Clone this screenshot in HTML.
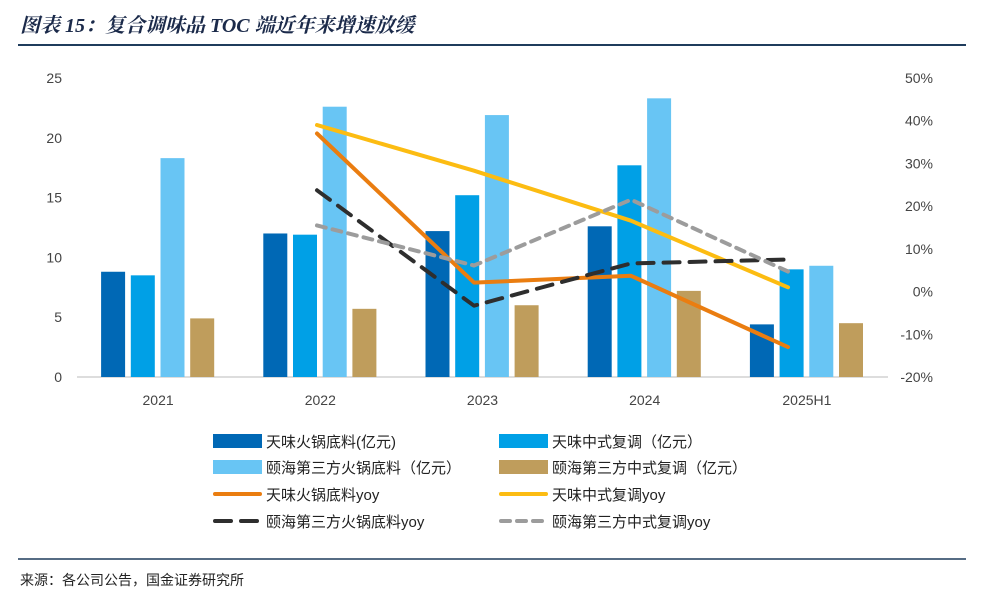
<!DOCTYPE html>
<html><head><meta charset="utf-8">
<style>
body{margin:0;background:#fff;width:982px;height:602px;overflow:hidden;font-family:"Liberation Sans","Noto Sans CJK SC",sans-serif;}
</style></head><body>
<svg id="chart" width="982" height="602" xmlns="http://www.w3.org/2000/svg">
<text x="20" y="32" font-family="'Liberation Serif','Noto Serif CJK SC',serif" font-size="20" font-weight="bold" font-style="italic" fill="#1b2a4a">图表 15：复合调味品 TOC 端近年来增速放缓</text>
<line x1="18" y1="45" x2="966" y2="45" stroke="#1f3c5c" stroke-width="2"/>
<line x1="18" y1="559" x2="966" y2="559" stroke="#1f3c5c" stroke-width="1.5"/>
<text x="20" y="585" font-size="14" fill="#222" font-family="'Liberation Sans','Noto Sans CJK SC',sans-serif">来源：各公司公告，国金证券研究所</text>
<g id="plot"></g>
<g id="legend"></g>
</svg>
<script>
const categories=["2021","2022","2023","2024","2025H1"];
const tianweiHotpot=[8.8,12.0,12.2,12.6,4.4];
const tianweiChinese=[8.5,11.9,15.2,17.7,9.0];
const yihaiHotpot=[18.3,22.6,21.9,23.3,9.3];
const yihaiChinese=[4.9,5.7,6.0,7.2,4.5];
const tianweiHotpotYoy=[null,37,2.1,3.7,-13];
const tianweiChineseYoy=[null,39,28.3,16.6,1];
const yihaiHotpotYoy=[null,23.7,-3.3,6.6,7.5];
const yihaiChineseYoy=[null,15.5,6.1,21.5,4.7];
const leftTicks=[0,5,10,15,20,25];
const rightTicks=[-20,-10,0,10,20,30,40,50];

const NS="http://www.w3.org/2000/svg";
const plot=document.getElementById('plot');
const legend=document.getElementById('legend');
function mk(tag,attrs,parent){const e=document.createElementNS(NS,tag);for(const k in attrs)e.setAttribute(k,attrs[k]);parent.appendChild(e);return e;}
const x0=77,x1=888,yTop=78,yBot=377;
const yL=v=>yBot-(v/25)*(yBot-yTop);
const yR=v=>yBot-((v+20)/70)*(yBot-yTop);
const bandW=(x1-x0)/categories.length;
const cx=i=>x0+bandW*(i+0.5);
const lx=i=>160+157*i;

leftTicks.forEach(t=>{const e=mk('text',{x:62,y:yL(t)+5,'text-anchor':'end','font-size':14,fill:'#444'},plot);e.textContent=t;

});
rightTicks.forEach(t=>{const e=mk('text',{x:933,y:yR(t)+5,'text-anchor':'end','font-size':14,fill:'#444'},plot);e.textContent=t+'%';

});
const ax=mk('line',{x1:x0,x2:x1,y1:yBot,y2:yBot,stroke:'#bbb','stroke-width':1},plot);



const series=[[tianweiHotpot,'#0068b5'],[tianweiChinese,'#00a0e6'],[yihaiHotpot,'#68c5f4'],[yihaiChinese,'#bf9d5c']];
const bw=24,step=29.7;
categories.forEach((c,i)=>{
 series.forEach((s,j)=>{
  const x=cx(i)-57+j*step;
  const r=mk('rect',{x:x,y:yL(s[0][i]),width:bw,height:yBot-yL(s[0][i]),fill:s[1]},plot);
  
  
 });
 const t=mk('text',{x:cx(i),y:405,'text-anchor':'middle','font-size':14,fill:'#444'},plot);t.textContent=c;
 
 
});
const lines=[[tianweiHotpotYoy,'#ea7d10',null],[tianweiChineseYoy,'#fcbc12',null],[yihaiHotpotYoy,'#2e2e2e','16 10'],[yihaiChineseYoy,'#9c9c9c','9 7']];
lines.forEach((l,j)=>{
 const pts=[];l[0].forEach((v,i)=>{if(v!==null)pts.push(lx(i).toFixed(1)+','+yR(v).toFixed(1));});
 const a={points:pts.join(' '),fill:'none',stroke:l[1],'stroke-width':4,'stroke-linecap':'round','stroke-linejoin':'round'};
 if(l[2])a['stroke-dasharray']=l[2];
 const p=mk('polyline',a,plot);
 
 
});

const items=[
 ['rect','#0068b5','天味火锅底料(亿元)',213,441],
 ['rect','#00a0e6','天味中式复调（亿元）',499,441],
 ['rect','#68c5f4','颐海第三方火锅底料（亿元）',213,467],
 ['rect','#bf9d5c','颐海第三方中式复调（亿元）',499,467],
 ['line','#ea7d10','天味火锅底料yoy',213,494,null],
 ['line','#fcbc12','天味中式复调yoy',499,494,null],
 ['line','#2e2e2e','颐海第三方火锅底料yoy',213,521,'16 10'],
 ['line','#9c9c9c','颐海第三方中式复调yoy',499,521,'9 7']];
items.forEach(it=>{
 let m;
 if(it[0]==='rect')m=mk('rect',{x:it[3],y:it[4]-7,width:49,height:14,fill:it[1]},legend);
 else{const a={x1:it[3]+2,x2:it[3]+47,y1:it[4],y2:it[4],stroke:it[1],'stroke-width':4,'stroke-linecap':'round'};if(it[5])a['stroke-dasharray']=it[5];m=mk('line',a,legend);}
 
 
 const t=mk('text',{x:it[3]+53,y:it[4]+6,'font-size':15,fill:'#222'},legend);t.textContent=it[2];
 
 
});
</script>
</body></html>
